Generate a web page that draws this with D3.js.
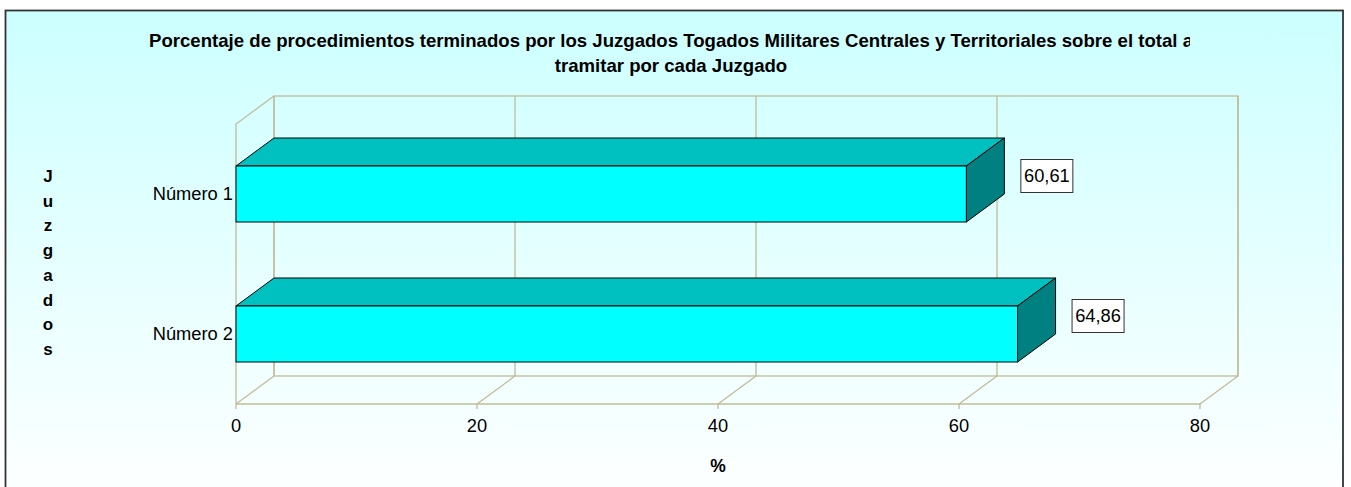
<!DOCTYPE html>
<html>
<head>
<meta charset="utf-8">
<script src="https://cdn.jsdelivr.net/npm/d3@7"></script>
<style>
  html, body { margin: 0; padding: 0; background: #fff; }
  svg { display: block; font-family: "Liberation Sans", Arial, sans-serif; }
</style>
</head>
<body>
<div id="chart"></div>
<script>
const categories = ["Número 1", "Número 2"];
const values = [60.61, 64.86];
const valueLabels = ["60,61", "64,86"];
const xTicks = [0, 20, 40, 60, 80];
const titleLines = [
  "Porcentaje de procedimientos terminados por los Juzgados Togados Militares Centrales y Territoriales sobre el total a",
  "tramitar por cada Juzgado"
];
const yTitle = "Juzgados";
const xTitle = "%";

const width = 1351, height = 487;
const depth = { dx: 38, dy: -28 };
const plot = { left: 236, right: 1200, top: 124, bottom: 404 };

const svg = d3.select("#chart").append("svg")
  .attr("width", width).attr("height", height);

const defs = svg.append("defs");
const grad = defs.append("linearGradient").attr("id", "bg")
  .attr("x1", 0).attr("y1", 0).attr("x2", 0).attr("y2", 1);
grad.append("stop").attr("offset", "0%").attr("stop-color", "#ccffff");
grad.append("stop").attr("offset", "100%").attr("stop-color", "#fdffff");
defs.append("clipPath").attr("id", "titleClip")
  .append("rect").attr("x", 0).attr("y", 0).attr("width", 1190).attr("height", 100);

svg.append("rect")
  .attr("x", 5.5).attr("y", 10.5).attr("width", 1337.5).attr("height", 480)
  .attr("fill", "url(#bg)").attr("stroke", "#333").attr("stroke-width", 1.8);

// title (first line is cut at the right, as in the source)
const title = svg.append("g").attr("clip-path", "url(#titleClip)");
title.selectAll("text").data(titleLines).join("text")
  .attr("x", 671).attr("y", (d, i) => 47 + i * 25)
  .attr("text-anchor", "middle")
  .attr("font-weight", "bold").attr("font-size", 18.6)
  .text(d => d);

const x = d3.scaleLinear().domain([0, 80]).range([plot.left, plot.right]);
const y = d3.scaleBand().domain(categories)
  .range([plot.top, plot.bottom]).paddingInner(0.6).paddingOuter(0.3);

const gridColor = "#c2bb97";
const frame = svg.append("g").attr("fill", "none").attr("stroke", gridColor).attr("stroke-width", 1.3);

// back wall
frame.append("rect")
  .attr("x", plot.left + depth.dx).attr("y", plot.top + depth.dy)
  .attr("width", x(80) - x(0)).attr("height", plot.bottom - plot.top);
// left wall
frame.append("path").attr("d", d3.line()([
  [plot.left, plot.bottom], [plot.left, plot.top],
  [plot.left + depth.dx, plot.top + depth.dy]
]));
// floor front edge
frame.append("line")
  .attr("x1", plot.left).attr("x2", plot.right)
  .attr("y1", plot.bottom).attr("y2", plot.bottom);

// gridlines on back wall + floor diagonals + ticks
xTicks.forEach(t => {
  const fx = x(t), bx = x(t) + depth.dx;
  frame.append("line").attr("x1", bx).attr("x2", bx)
    .attr("y1", plot.top + depth.dy).attr("y2", plot.bottom + depth.dy);
  frame.append("line").attr("x1", fx).attr("x2", bx)
    .attr("y1", plot.bottom).attr("y2", plot.bottom + depth.dy);
  frame.append("line").attr("x1", fx).attr("x2", fx)
    .attr("y1", plot.bottom).attr("y2", plot.bottom + 5);
});

// x axis labels
svg.append("g").selectAll("text").data(xTicks).join("text")
  .attr("x", d => x(d)).attr("y", 432)
  .attr("text-anchor", "middle").attr("font-size", 18.3)
  .text(d => d);

svg.append("text").attr("x", 718).attr("y", 472)
  .attr("text-anchor", "middle").attr("font-weight", "bold").attr("font-size", 17.5)
  .text(xTitle);

// y title letters
svg.append("g").selectAll("text").data(yTitle.split("")).join("text")
  .attr("x", 48).attr("y", (d, i) => 182 + i * 24.7)
  .attr("text-anchor", "middle").attr("font-weight", "bold").attr("font-size", 17)
  .text(d => d);

// category labels
svg.append("g").selectAll("text").data(categories).join("text")
  .attr("x", plot.left - 3).attr("y", d => y(d) + y.bandwidth() / 2)
  .attr("dy", "0.35em").attr("text-anchor", "end").attr("font-size", 18.3)
  .text(d => d);

// bars
const bars = svg.append("g").selectAll("g").data(categories).join("g");
bars.each(function (c, i) {
  const g = d3.select(this);
  const x0 = x(0), x1 = x(values[i]);
  const y0 = y(c), y1 = y(c) + y.bandwidth();
  const { dx, dy } = depth;
  g.append("path")
    .attr("d", d3.line()([[x0, y0], [x0 + dx, y0 + dy], [x1 + dx, y0 + dy], [x1, y0]]) + "Z")
    .attr("fill", "#00c0c0").attr("stroke", "#000").attr("stroke-width", 1);
  g.append("path")
    .attr("d", d3.line()([[x1, y0], [x1 + dx, y0 + dy], [x1 + dx, y1 + dy], [x1, y1]]) + "Z")
    .attr("fill", "#008080").attr("stroke", "#000").attr("stroke-width", 1);
  g.append("rect")
    .attr("x", x0).attr("y", y0).attr("width", x1 - x0).attr("height", y1 - y0)
    .attr("fill", "#00ffff").attr("stroke", "#000").attr("stroke-width", 1);

  // value label box
  const lx = x1 + dx + 16, ly = (y0 + y1) / 2 - 19;
  g.append("rect").attr("x", lx + 0.5).attr("y", ly - 16 + 0.5)
    .attr("width", 52).attr("height", 33)
    .attr("fill", "#fff").attr("stroke", "#333").attr("stroke-width", 1);
  g.append("text").attr("x", lx + 26.5).attr("y", ly + 1)
    .attr("dy", "0.35em").attr("text-anchor", "middle").attr("font-size", 18.3)
    .text(valueLabels[i]);
});
</script>
</body>
</html>
